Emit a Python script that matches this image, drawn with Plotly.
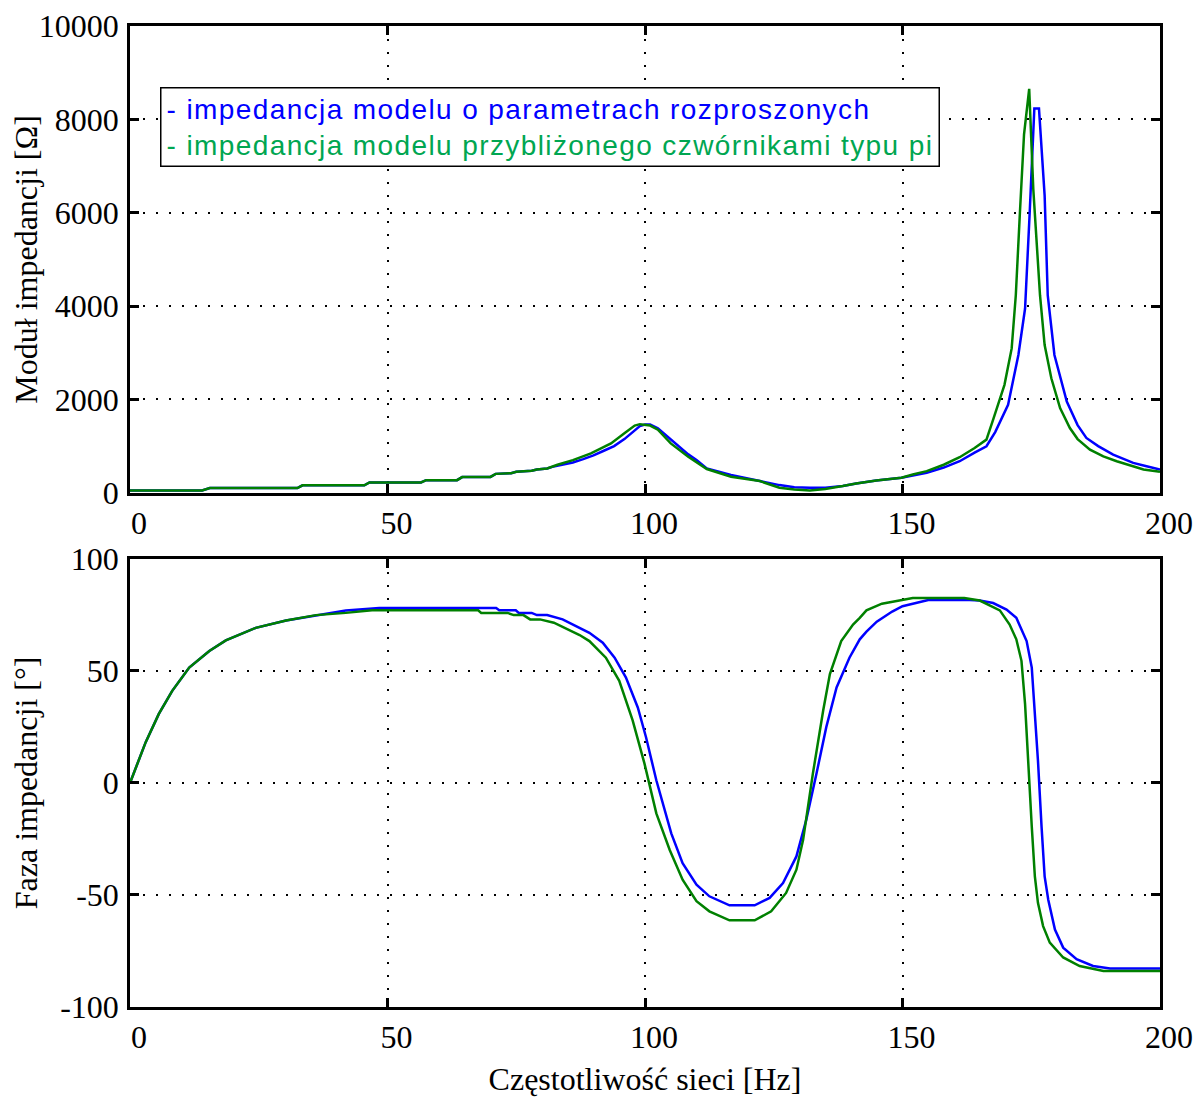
import plotly.graph_objects as go

# ---------- data ----------
f_mag_blue = [0, 14, 15.5, 32.5, 33.5, 45.5, 46.5, 56.5, 57.5, 63.5, 64.5, 70, 71, 74, 75, 78, 79, 81,
              82, 84, 86, 88, 90, 92, 94, 96, 98, 99, 100, 101, 102.5, 105, 108.4, 110, 112, 116.7,
              119, 122.3, 126.1, 129, 132, 135, 138.4, 141, 144.9, 149.8, 152, 154.7, 158, 161.1,
              164, 166.3, 168, 170.5, 172.5, 173.8, 174.7, 175.3, 175.6, 176.5, 177.6, 178.2, 179.5,
              181.9, 184, 185.7, 188, 190.9, 193, 194.8, 197, 200]
mag_blue = [50, 50, 100, 100, 160, 160, 220, 220, 270, 270, 335, 340, 405, 420, 448, 470, 500, 520,
            555, 600, 650, 720, 800, 900, 1000, 1150, 1330, 1430, 1460, 1460, 1380, 1137, 822, 700,
            522, 380, 320, 250, 164, 120, 107, 110, 143, 200, 265, 320, 370, 427, 540, 676,
            860, 996, 1300, 1885, 2952, 3947, 6010, 7432, 8230, 8230, 6365, 4232, 2952,
            1956, 1450, 1174, 1000, 818, 720, 640, 580, 498]

f_mag_green = [0, 14, 15.5, 32.5, 33.5, 45.5, 46.5, 56.5, 57.5, 63.5, 64.5, 70, 71, 74, 75, 78, 79, 81,
               83, 86, 89.5, 93.4, 96, 98, 99, 100, 101, 102.5, 105, 108.4, 112, 116.7, 119, 122.3,
               126.1, 129, 132, 135, 138.4, 141, 144.9, 149.8, 152, 154.7, 158, 161.1, 164, 166.3,
               167.6, 169.8, 171.2, 172, 172.8, 173.6, 174.6, 175.4, 176.7, 177.6, 178.9, 180.6,
               182.5, 184, 186.4, 189, 191.6, 194, 196.8, 200]
mag_green = [50, 50, 100, 100, 160, 160, 220, 220, 270, 270, 335, 340, 405, 420, 448, 470, 500, 520,
             600, 700, 843, 1058, 1273, 1440, 1470, 1460, 1440, 1352, 1058, 772, 508, 343, 300, 250,
             107, 70, 51, 80, 143, 200, 265, 320, 390, 463, 600, 762, 960, 1139,
             1565, 2312, 3093, 4232, 6005, 7680, 8655, 6500, 4232, 3165, 2453, 1813,
             1387, 1150, 925, 780, 676, 600, 498, 448]

f_ph_blue = [0, 3.05, 5.6, 8.2, 11.5, 15.4, 18.6, 21.2, 24.4, 30.3, 36.1, 41.9, 48.4, 71.1, 71.7,
             74.9, 75.5, 78, 79, 81, 84, 87.3, 89.2, 91.8, 94.1, 96.3, 98.6, 100.2, 102.2, 105.1,
             107.3, 110, 112.5, 116.4, 121.3, 124.2, 126.8, 129.4, 131.3, 133.3, 135.2, 137.2,
             139.7, 141.7, 143, 145, 148, 150, 153, 155, 163, 165, 167.6, 170.2, 172.1, 174.1,
             175.1, 175.7, 176.3, 177, 177.6, 178.3, 179.6, 181.2, 183.8, 187, 190.3, 200]
ph_blue = [0, 18.2, 30.8, 41.1, 51.5, 58.9, 63.6, 66, 69.2, 72.5, 74.9, 77.0, 78.1, 78.1, 77.1,
           77.1, 75.9, 75.9, 74.9, 74.9, 73, 69.2, 67.0, 62.6, 55.9, 47.0, 33.7, 20.4, 1.2, -22.5,
           -35.8, -45.4, -50.6, -54.6, -54.6, -51.3, -44.7, -32.8, -16.6, 4.2, 24.9, 42.6,
           55.9, 64.1, 67.5, 72, 76.5, 78.9, 80.5, 81.6, 81.6, 81.4, 80.3, 77.4, 73.7, 63.3,
           51.5, 32.3, 10.1, -19.5, -41.7, -52.1, -65.4, -73.5, -78.7, -81.7, -82.8, -82.8]

f_ph_green = [0, 3.05, 5.6, 8.2, 11.5, 15.4, 18.6, 21.2, 24.4, 30.3, 36.1, 41.9, 47, 67.6, 68.2,
              73.3, 74.5, 76.4, 77.7, 79.6, 82.3, 87.3, 89.2, 92.4, 95, 97.6, 99.9, 102.2, 104.8,
              107.3, 110, 112.5, 116.4, 121.3, 124.5, 127.4, 129.4, 130.7, 132.6, 134.6, 135.9,
              138.1, 140.4, 141.7, 143, 146, 150, 152, 162, 165, 168.9, 170.8, 172.1, 173.1,
              173.8, 174.4, 175.1, 175.7, 176.3, 177.3, 178.6, 181.2, 184.4, 189, 200]
ph_green = [0, 18.2, 30.8, 41.1, 51.5, 58.9, 63.6, 66, 69.2, 72.5, 74.9, 75.9, 77.1, 77.1, 75.9,
            75.9, 74.9, 74.9, 73, 73, 71.5, 66, 63.3, 55.9, 45.6, 27.9, 8.6, -13.6, -29.9,
            -43.2, -52.8, -57.3, -61.3, -61.3, -57.3, -49.1, -38.7, -25.4, 4.2, 32.3, 48.6,
            63.3, 70.7, 73.7, 77, 80, 81.5, 82.5, 82.5, 81.4, 77, 70.7, 64.1, 54.5,
            35.2, 7.1, -19.5, -41.7, -53.5, -63.9, -71.3, -77.9, -81.7, -83.9, -83.9]

x_ticks = [0, 50, 100, 150, 200]
x_tick_labels = ["0", "50", "100", "150", "200"]
mag_ticks = [0, 2000, 4000, 6000, 8000, 10000]
mag_tick_labels = ["0", "2000", "4000", "6000", "8000", "10000"]
ph_ticks = [-100, -50, 0, 50, 100]
ph_tick_labels = ["-100", "-50", "0", "50", "100"]

legend_lines = ["- impedancja modelu o parametrach rozproszonych",
                "- impedancja modelu przybliżonego czwórnikami typu pi"]

BLUE = "#0000FF"
GREEN = "#008000"

fig = go.Figure()
fig.add_trace(go.Scatter(x=f_mag_blue, y=mag_blue, mode="lines", line=dict(color=BLUE, width=2.5),
                         xaxis="x", yaxis="y", showlegend=False))
fig.add_trace(go.Scatter(x=f_mag_green, y=mag_green, mode="lines", line=dict(color=GREEN, width=2.5),
                         xaxis="x", yaxis="y", showlegend=False))
fig.add_trace(go.Scatter(x=f_ph_blue, y=ph_blue, mode="lines", line=dict(color=BLUE, width=2.5),
                         xaxis="x2", yaxis="y2", showlegend=False))
fig.add_trace(go.Scatter(x=f_ph_green, y=ph_green, mode="lines", line=dict(color=GREEN, width=2.5),
                         xaxis="x2", yaxis="y2", showlegend=False))

tick_font = dict(family="Liberation Serif", size=32, color="black")
common = dict(showline=True, linecolor="black", linewidth=2.5, mirror="allticks",
              ticks="inside", ticklen=9, tickwidth=2.5, tickcolor="black",
              showgrid=True, gridcolor="black", gridwidth=2, griddash="2px,11px",
              zeroline=False, tickfont=tick_font, automargin=False,
              ticklabeloverflow="allow")
xcommon = dict(common, range=[0, 200], tickvals=x_ticks, ticktext=x_tick_labels,
               ticklabelshift=9)

fig.update_layout(
    width=1203, height=1098,
    margin=dict(l=122, r=51, t=18, b=99),
    plot_bgcolor="white", paper_bgcolor="white",
    xaxis=dict(domain=[0, 1], anchor="y", **xcommon),
    yaxis=dict(domain=[0.5242, 1], anchor="x", range=[0, 10000], tickvals=mag_ticks,
               ticktext=mag_tick_labels, ticklabelstandoff=2,
               title=dict(text="Moduł impedancji [Ω]", font=tick_font, standoff=4), **common),
    xaxis2=dict(domain=[0, 1], anchor="y2",
                title=dict(text="Częstotliwość sieci [Hz]", font=tick_font, standoff=14), **xcommon),
    yaxis2=dict(domain=[0, 0.4568], anchor="x2", range=[-100, 100], tickvals=ph_ticks,
                ticktext=ph_tick_labels, ticklabelstandoff=2,
                title=dict(text="Faza impedancji [°]", font=tick_font, standoff=15), **common),
)

fig.add_annotation(
    xref="x domain", yref="y domain", x=0.029, y=0.8696, xanchor="left", yanchor="top",
    align="left", showarrow=False,
    text=(f"<span style='color:#0000FF;letter-spacing:1.4px'>{legend_lines[0]}</span><br>"
          f"<span style='color:#00A651;letter-spacing:1.4px'>{legend_lines[1]}</span>"),
    font=dict(family="Liberation Sans", size=28),
    bordercolor="black", borderwidth=1.5, borderpad=5, bgcolor="white",
)

fig.write_html("out.html")
